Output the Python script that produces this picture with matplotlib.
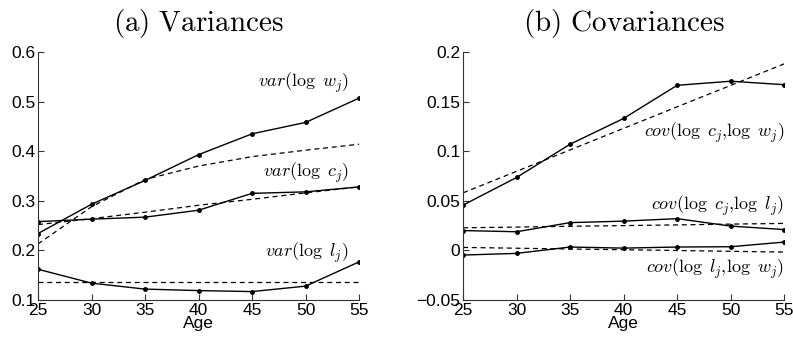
import matplotlib
matplotlib.use("Agg")
import matplotlib.pyplot as plt

plt.rcParams['font.family'] = ['Liberation Sans', 'DejaVu Sans']
plt.rcParams['mathtext.fontset'] = 'cm'

ages = [25, 30, 35, 40, 45, 50, 55]

# (a) variances: data (solid) and model fit (dashed)
var_w = [0.234, 0.293, 0.341, 0.393, 0.435, 0.458, 0.507]
var_w_fit = [0.213, 0.288, 0.343, 0.370, 0.389, 0.402, 0.414]
var_c = [0.258, 0.263, 0.267, 0.281, 0.315, 0.318, 0.328]
var_c_fit = [0.252, 0.264, 0.277, 0.291, 0.303, 0.316, 0.328]
var_l = [0.162, 0.134, 0.122, 0.119, 0.117, 0.128, 0.177]
var_l_fit = [0.137, 0.137, 0.137, 0.137, 0.137, 0.137, 0.137]

# (b) covariances
cov_cw = [0.0456, 0.0735, 0.107, 0.133, 0.1664, 0.1705, 0.167]
cov_cw_fit = [0.058, 0.0797, 0.1013, 0.123, 0.1447, 0.1663, 0.188]
cov_cl = [0.020, 0.0188, 0.028, 0.0295, 0.032, 0.0245, 0.021]
cov_cl_fit = [0.0228, 0.0235, 0.0243, 0.025, 0.0257, 0.0265, 0.0272]
cov_lw = [-0.0047, -0.003, 0.0034, 0.0023, 0.0034, 0.0037, 0.0084]
cov_lw_fit = [0.003, 0.0022, 0.0014, 0.0007, -0.0001, -0.0009, -0.0017]


def style_axes(ax, ylim, yticks, yticklabels):
    ax.set_xlim(25, 55)
    ax.set_ylim(*ylim)
    ax.set_xticks(ages)
    ax.set_yticks(yticks)
    ax.set_yticklabels(yticklabels)
    ax.spines['top'].set_visible(False)
    ax.spines['right'].set_visible(False)
    for s in ('left', 'bottom'):
        ax.spines[s].set_linewidth(0.8)
        ax.spines[s].set_color('#333333')
    ax.tick_params(direction='in', length=4, width=0.8, labelsize=12.5, pad=2,
                   colors='#333333', labelcolor='black')
    ax.set_xlabel('Age', fontsize=12.5, labelpad=-1)


def draw(ax, y, yfit):
    ax.plot(ages, yfit, color='black', lw=0.9, ls=(0, (4, 3)))
    ax.plot(ages, y, color='black', lw=1.0, marker='o', markersize=2.5)


fig = plt.figure(figsize=(7.93, 3.45), dpi=100)
ax1 = fig.add_axes([0.0479, 0.1304, 0.405, 0.719])
ax2 = fig.add_axes([0.5839, 0.1304, 0.405, 0.719])

draw(ax1, var_w, var_w_fit)
draw(ax1, var_c, var_c_fit)
draw(ax1, var_l, var_l_fit)
style_axes(ax1, (0.1, 0.6), [0.1, 0.2, 0.3, 0.4, 0.5, 0.6],
           ['0.1', '0.2', '0.3', '0.4', '0.5', '0.6'])
ax1.set_title(r'$\mathrm{(a)\ Variances}$', fontsize=21, pad=15)
lab = dict(fontsize=13, ha='right', va='center')
ax1.text(54, 0.5375, r'$var(\log\ w_j)$', **lab)
ax1.text(54, 0.356, r'$var(\log\ c_j)$', **lab)
ax1.text(54, 0.195, r'$var(\log\ l_j)$', **lab)

draw(ax2, cov_cw, cov_cw_fit)
draw(ax2, cov_cl, cov_cl_fit)
draw(ax2, cov_lw, cov_lw_fit)
style_axes(ax2, (-0.05, 0.2), [-0.05, 0, 0.05, 0.1, 0.15, 0.2],
           ['\u22120.05', '0', '0.05', '0.1', '0.15', '0.2'])
ax2.set_title(r'$\mathrm{(b)\ Covariances}$', fontsize=21, pad=15)
ax2.text(55, 0.118, r'$cov(\log\ c_j,\!\log\ w_j)$', **lab)
ax2.text(55, 0.045, r'$cov(\log\ c_j,\!\log\ l_j)$', **lab)
ax2.text(55, -0.019, r'$cov(\log\ l_j,\!\log\ w_j)$', **lab)

fig.savefig('out.png', dpi=100)
